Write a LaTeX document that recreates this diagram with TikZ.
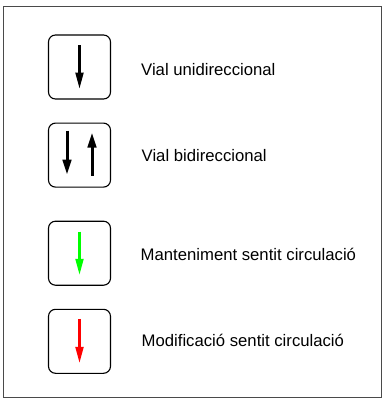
\documentclass[tikz,border=0pt]{standalone}
\usepackage{fontspec}
\setmainfont{Liberation Sans}
\usepackage{xcolor}
\usepackage{tikz}
\usetikzlibrary{positioning, arrows.meta}
\definecolor{keepgreen}{HTML}{00FF00}
\definecolor{changered}{HTML}{FF0000}
\definecolor{framegray}{HTML}{4A4A4A}

\begin{document}
\begin{tikzpicture}[x=1pt, y=-1pt,
    symbolbox/.style={draw, rounded corners=7pt, line width=1.1pt,
                      minimum width=62pt, minimum height=64pt, inner sep=0pt},
    legendtext/.style={anchor=base west, inner sep=0pt,
                       font=\fontsize{16.7}{20}\selectfont},
    thinarrow/.style={line width=2.05pt, -{Triangle[length=16pt, width=8pt]}},
    thickarrow/.style={line width=3pt, -{Triangle[length=15pt, width=8.5pt]}}]
    \path[use as bounding box] (0,0) rectangle (382,399);
    \draw[framegray, line width=1pt] (3,6) rectangle (381.6,397.3);

    \node[symbolbox] (uni) at (79.5,67) {};
    \node[symbolbox, below=23pt of uni] (bi) {};
    \node[symbolbox, below=33pt of bi] (keep) {};
    \node[symbolbox, below=23pt of keep] (change) {};

    \draw[thinarrow] ([yshift=-11pt]uni.north) -- ([yshift=11pt]uni.south);
    \draw[thickarrow] ([xshift=-12.5pt, yshift=-8pt]bi.north) -- ([xshift=-12.5pt, yshift=13pt]bi.south);
    \draw[thickarrow] ([xshift=12.5pt, yshift=12pt]bi.south) -- ([xshift=12.5pt, yshift=-10pt]bi.north);
    \draw[thinarrow, keepgreen] ([yshift=-11pt]keep.north) -- ([yshift=11pt]keep.south);
    \draw[thinarrow, changered] ([yshift=-10pt]change.north) -- ([yshift=11pt]change.south);

    \node[legendtext] (unitext) at (141,75) {Vial unidireccional};
    \node[legendtext] (bitext) at (141.5,161.7) {Vial bidireccional};
    \node[legendtext] (keeptext) at (140.5,260) {Manteniment sentit circulació};
    \node[legendtext] (changetext) at (141.5,346) {Modificació sentit circulació};
\end{tikzpicture}
\end{document}
